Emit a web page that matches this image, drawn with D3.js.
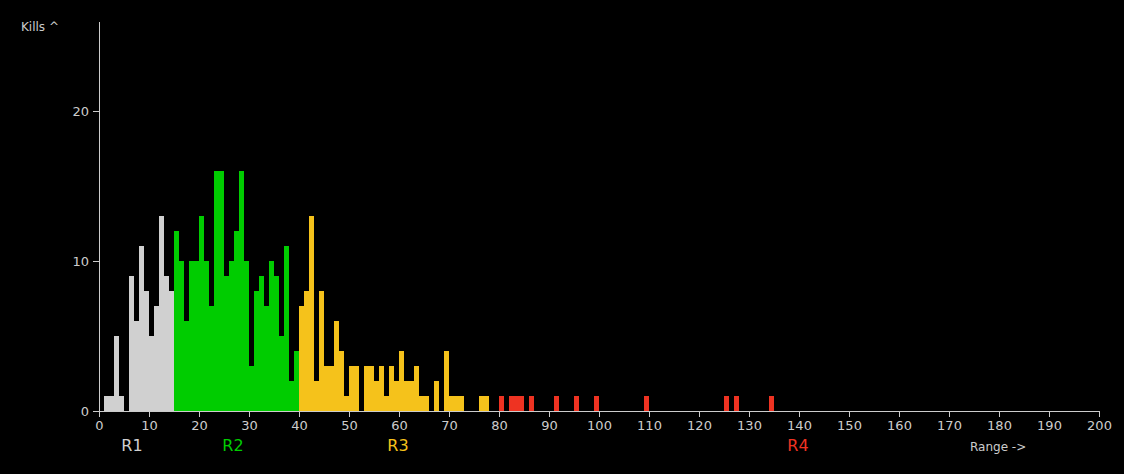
<!DOCTYPE html>
<html>
<head>
<meta charset="utf-8">
<script src="https://cdn.jsdelivr.net/npm/d3@7"></script>
<style>
  html, body { margin: 0; padding: 0; background: #000; }
  svg { display: block; font-family: "DejaVu Sans", Verdana, sans-serif; }
</style>
</head>
<body>
<div id="chart"></div>
<script>
// Range bins (1 unit wide) and kill counts
const ranges = [1, 2, 3, 4, 6, 7, 8, 9, 10, 11, 12, 13, 14,
  15, 16, 17, 18, 19, 20, 21, 22, 23, 24, 25, 26, 27, 28, 29, 30, 31, 32, 33, 34, 35, 36, 37, 38, 39,
  40, 41, 42, 43, 44, 45, 46, 47, 48, 49, 50, 51, 53, 54, 55, 56, 57, 58, 59, 60, 61, 62, 63, 64, 65,
  67, 69, 70, 71, 72, 76, 77,
  80, 82, 83, 84, 86, 91, 95, 99, 109, 125, 127, 134];
const kills = [1, 1, 5, 1, 9, 6, 11, 8, 5, 7, 13, 9, 8,
  12, 10, 6, 10, 10, 13, 10, 7, 16, 16, 9, 10, 12, 16, 10, 3, 8, 9, 7, 10, 9, 5, 11, 2, 4,
  7, 8, 13, 2, 8, 3, 3, 6, 4, 1, 3, 3, 3, 3, 2, 3, 1, 3, 2, 4, 2, 2, 3, 1, 1,
  2, 4, 1, 1, 1, 1, 1,
  1, 1, 1, 1, 1, 1, 1, 1, 1, 1, 1, 1];

// Range zones: start of each zone, label, label position, colour
const zoneStarts = [0, 15, 40, 80];
const zoneNames = ["R1", "R2", "R3", "R4"];
const zoneLabelAt = [6.6, 26.8, 59.8, 139.8];
const zoneColors = ["#d0d0d0", "#00cc00", "#f5c21b", "#ee3322"];

const yTicks = [0, 10, 20];
const xTicks = d3.range(0, 201, 10);

const width = 1124, height = 474;
const margin = { top: 21, right: 25, bottom: 63, left: 99 };

const svg = d3.select("#chart")
  .append("svg")
  .attr("width", width)
  .attr("height", height);

const x = d3.scaleLinear().domain([0, 200]).range([margin.left, width - margin.right]);
const y = d3.scaleLinear().domain([0, 26]).range([height - margin.bottom, margin.top]);

const zoneOf = r => d3.bisectRight(zoneStarts, r) - 1;

const data = ranges.map((r, i) => ({ range: r, kills: kills[i] }));

// Bars
svg.append("g")
  .selectAll("rect")
  .data(data)
  .join("rect")
  .attr("x", d => x(d.range))
  .attr("width", d => x(d.range + 1) - x(d.range))
  .attr("y", d => y(d.kills))
  .attr("height", d => y(0) - y(d.kills))
  .attr("fill", d => zoneColors[zoneOf(d.range)])
  .attr("shape-rendering", "crispEdges");

const axisColor = "#cccccc";

// X axis
const gx = svg.append("g")
  .attr("transform", `translate(0,${y(0)})`)
  .call(d3.axisBottom(x).tickValues(xTicks).tickSize(6).tickPadding(4).tickSizeOuter(0));

// Y axis
const gy = svg.append("g")
  .attr("transform", `translate(${x(0)},0)`)
  .call(d3.axisLeft(y).tickValues(yTicks).tickSize(6).tickPadding(4).tickSizeOuter(0));

[gx, gy].forEach(g => {
  g.select(".domain").attr("stroke", axisColor).attr("shape-rendering", "crispEdges");
  g.selectAll(".tick line").attr("stroke", axisColor).attr("shape-rendering", "crispEdges");
  g.selectAll(".tick text")
    .attr("fill", axisColor)
    .attr("font-family", "DejaVu Sans, Verdana, sans-serif")
    .attr("font-size", 13);
});

// Axis titles
svg.append("text")
  .attr("x", 21)
  .attr("y", 31)
  .attr("fill", axisColor)
  .attr("font-size", 12)
  .text("Kills ^");

svg.append("text")
  .attr("x", 970)
  .attr("y", 451)
  .attr("fill", axisColor)
  .attr("font-size", 12)
  .text("Range ->");

// Zone labels
svg.append("g")
  .selectAll("text")
  .data(zoneNames)
  .join("text")
  .attr("x", (d, i) => x(zoneLabelAt[i]))
  .attr("y", 451)
  .attr("text-anchor", "middle")
  .attr("font-size", 16)
  .attr("fill", (d, i) => zoneColors[i])
  .text(d => d);
</script>
</body>
</html>
